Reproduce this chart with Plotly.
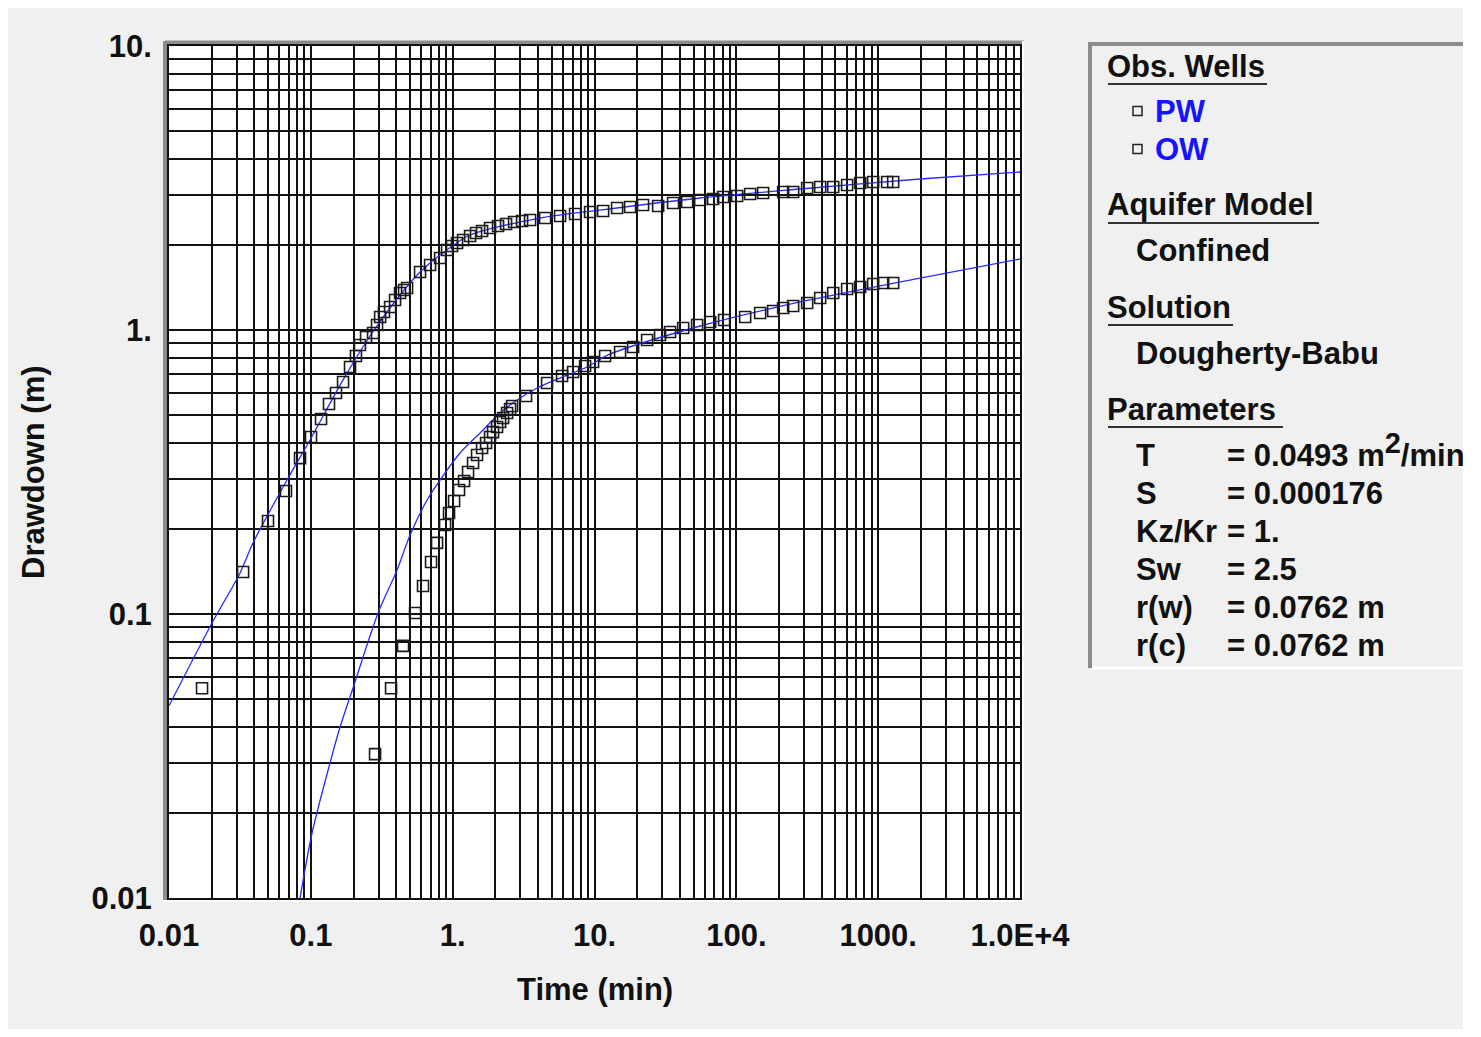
import plotly.graph_objects as go

# ---------------- data ----------------
pw_t = [0.0171, 0.0333, 0.0499, 0.0668, 0.0839, 0.1003, 0.118, 0.1343, 0.1505, 0.1687,
        0.189, 0.208, 0.222, 0.245, 0.2746, 0.293, 0.308, 0.328, 0.362, 0.3925,
        0.4256, 0.4543, 0.477, 0.589, 0.693, 0.815, 0.913, 0.990, 1.074, 1.184,
        1.327, 1.462, 1.612, 1.835, 2.090, 2.380, 2.710, 3.086, 3.514, 4.484,
        5.721, 7.298, 9.31, 11.5, 14.43, 17.83, 22.0, 28.1, 35.8, 45.0,
        55.6, 68.6, 80.7, 101.3, 125.1, 154.5, 213.8, 251.6, 315.8, 390.0,
        482.0, 604.0, 747.0, 922.0, 1157.0, 1276.0]
pw_s = [0.0548, 0.1406, 0.2126, 0.271, 0.354, 0.420, 0.486, 0.549, 0.600, 0.656,
        0.741, 0.810, 0.886, 0.945, 0.976, 1.041, 1.111, 1.157, 1.205, 1.275,
        1.350, 1.383, 1.406, 1.600, 1.693, 1.792, 1.913, 1.976, 2.025, 2.074,
        2.143, 2.196, 2.232, 2.287, 2.324, 2.362, 2.400, 2.420, 2.439, 2.479,
        2.520, 2.561, 2.604, 2.624, 2.689, 2.711, 2.755, 2.733, 2.801, 2.823,
        2.870, 2.893, 2.940, 2.964, 3.012, 3.037, 3.062, 3.062, 3.162, 3.188,
        3.188, 3.240, 3.293, 3.320, 3.320, 3.320]

ow_t = [0.2837, 0.3678, 0.4468, 0.543, 0.618, 0.704, 0.776, 0.884, 0.943, 1.023,
        1.109, 1.203, 1.284, 1.393, 1.486, 1.612, 1.720, 1.835, 1.927, 2.056,
        2.160, 2.267, 2.419, 2.540, 2.624, 3.293, 4.630, 5.908, 7.063, 8.585,
        9.77, 11.88, 15.15, 18.72, 23.49, 29.0, 34.1, 42.2, 52.9, 65.4,
        82.0, 115.4, 147.2, 181.8, 213.8, 251.6, 315.8, 390.0, 482.0, 604.0,
        747.0, 922.0, 1085.0, 1276.0]
ow_s = [0.0321, 0.0548, 0.0772, 0.1008, 0.1255, 0.1524, 0.178, 0.2058, 0.2267, 0.250,
        0.2733, 0.2938, 0.3162, 0.340, 0.363, 0.384, 0.400, 0.420, 0.437, 0.4555,
        0.4745, 0.490, 0.510, 0.527, 0.540, 0.5855, 0.6506, 0.6887, 0.7114, 0.7466,
        0.7713, 0.810, 0.8366, 0.871, 0.922, 0.960, 0.984, 1.016, 1.041, 1.067,
        1.084, 1.111, 1.148, 1.166, 1.195, 1.215, 1.245, 1.296, 1.350, 1.394,
        1.417, 1.452, 1.464, 1.464]

pw_fit_t = [0.01, 0.0201, 0.0317, 0.0391, 0.0679, 0.0987, 0.1687, 0.270, 0.4256, 0.589,
            0.815, 1.327, 4.134, 10.95, 55.6, 281.8, 1978.0, 10000.0]
pw_fit_s = [0.0475, 0.0930, 0.1395, 0.1778, 0.2963, 0.410, 0.667, 0.976, 1.328, 1.600,
            1.837, 2.160, 2.479, 2.645, 2.916, 3.137, 3.402, 3.600]

ow_fit_t = [0.0839, 0.1020, 0.1366, 0.1607, 0.1984, 0.2978, 0.4055, 0.5009, 0.660, 0.815,
            1.128, 1.561, 2.160, 2.846, 3.937, 5.721, 8.87, 12.47, 55.6, 281.8,
            1978.0, 10000.0]
ow_fit_s = [0.0100, 0.01694, 0.0299, 0.0400, 0.0549, 0.1008, 0.1429, 0.1897, 0.252, 0.2963,
            0.369, 0.434, 0.510, 0.567, 0.625, 0.678, 0.741, 0.817, 1.033, 1.255,
            1.524, 1.778]

x_decades = [0.01, 0.1, 1, 10, 100, 1000, 10000]
x_decade_labels = ["0.01", "0.1", "1.", "10.", "100.", "1000.", "1.0E+4"]
y_decades = [0.01, 0.1, 1, 10]
y_decade_labels = ["0.01", "0.1", "1.", "10."]

x_title = "Time (min)"
y_title = "Drawdown (m)"
wells = ["PW", "OW"]
aquifer_model = "Confined"
solution = "Dougherty-Babu"
param_names = ["T", "S", "Kz/Kr", "Sw", "r(w)", "r(c)"]
param_values = ["= 0.0493 m<sup><span style='font-size:29px'>2</span></sup>/min", "= 0.000176", "= 1.", "= 2.5",
                "= 0.0762 m", "= 0.0762 m"]

# ---------------- helpers ----------------
FONT = "Liberation Sans, Arial, sans-serif"
FS = 31
W, H = 1455, 1021
L, R, T, B = 161, 443, 38, 131


def fx(ref_px):
    return (ref_px - 169) / 851.0


def fy(ref_py):
    return (898 - ref_py) / 852.0


def minor_vals(decades):
    vals = []
    for d in decades[:-1]:
        for m in range(2, 10):
            vals.append(d * m)
    return vals


fig = go.Figure()

line_style = dict(color="#2a2aff", width=1.3, shape="spline", smoothing=0.8)
fig.add_trace(go.Scatter(x=pw_fit_t, y=pw_fit_s, mode="lines", line=line_style,
                         showlegend=False, hoverinfo="skip"))
fig.add_trace(go.Scatter(x=ow_fit_t, y=ow_fit_s, mode="lines", line=line_style,
                         showlegend=False, hoverinfo="skip"))
mk = dict(symbol="square-open", size=11, color="#1a1a1a", line=dict(width=1.6, color="#1a1a1a"))
fig.add_trace(go.Scatter(x=pw_t, y=pw_s, mode="markers", name="PW", marker=mk, showlegend=False))
fig.add_trace(go.Scatter(x=ow_t, y=ow_s, mode="markers", name="OW", marker=mk, showlegend=False))

axis_common = dict(showgrid=True, gridcolor="#111", gridwidth=1.6, zeroline=False,
                   showline=True, linecolor="#111", linewidth=2, mirror=True,
                   ticks="outside", tickcolor="rgba(0,0,0,0)", tickangle=0,
                   tickfont=dict(family=FONT, size=FS, color="#111"))

fig.update_xaxes(type="log", range=[-2, 4], tickmode="array", tickvals=x_decades,
                 ticktext=["<b>%s</b>" % s for s in x_decade_labels], ticklen=9,
                 minor=dict(tickmode="array", tickvals=minor_vals(x_decades), showgrid=True,
                            gridcolor="#111", gridwidth=1.6, ticks=""),
                 **axis_common)
fig.update_yaxes(type="log", range=[-2, 1], tickmode="array", tickvals=y_decades,
                 ticktext=["<b>%s</b>" % s for s in y_decade_labels], ticklen=9,
                 minor=dict(tickmode="array", tickvals=minor_vals(y_decades), showgrid=True,
                            gridcolor="#111", gridwidth=1.6, ticks=""),
                 **axis_common)

shapes = []
gray = "#8c8c8c"
# bevel frame around the plot area
shapes.append(dict(type="line", xref="paper", yref="paper", x0=fx(165), x1=fx(1024), y0=fy(43), y1=fy(43),
                   line=dict(color=gray, width=5), layer="below"))
shapes.append(dict(type="line", xref="paper", yref="paper", x0=fx(165.5), x1=fx(165.5), y0=fy(41), y1=fy(902),
                   line=dict(color=gray, width=5), layer="below"))
shapes.append(dict(type="line", xref="paper", yref="paper", x0=fx(163), x1=fx(1025), y0=fy(901), y1=fy(901),
                   line=dict(color="#ffffff", width=2), layer="below"))
shapes.append(dict(type="line", xref="paper", yref="paper", x0=fx(1023), x1=fx(1023), y0=fy(41), y1=fy(902),
                   line=dict(color="#ffffff", width=2), layer="below"))
# parameter panel borders
shapes.append(dict(type="line", xref="paper", yref="paper", x0=fx(1090), x1=fx(1500), y0=fy(44), y1=fy(44),
                   line=dict(color=gray, width=4)))
shapes.append(dict(type="line", xref="paper", yref="paper", x0=fx(1090), x1=fx(1090), y0=fy(42), y1=fy(668),
                   line=dict(color=gray, width=4)))
shapes.append(dict(type="line", xref="paper", yref="paper", x0=fx(1092), x1=fx(1500), y0=fy(668), y1=fy(668),
                   line=dict(color="#ffffff", width=3)))

annotations = []


def txt(x, y, s, color="#111", size=FS, anchor="left"):
    annotations.append(dict(x=fx(x), y=fy(y), xref="paper", yref="paper", text=s, showarrow=False,
                            xanchor=anchor, yanchor="middle",
                            font=dict(family=FONT, size=size, color=color)))


def header(y, s, x_end):
    txt(1105, y, "<b>%s</b>" % s)
    shapes.append(dict(type="line", xref="paper", yref="paper", x0=fx(1108), x1=fx(x_end),
                       y0=fy(y + 18), y1=fy(y + 18), line=dict(color="#333", width=2)))


header(66, "Obs. Wells", 1267)
for i, w in enumerate(wells):
    yy = 111 + 38 * i
    shapes.append(dict(type="rect", xref="paper", yref="paper", x0=fx(1133), x1=fx(1142),
                       y0=fy(yy - 4.5), y1=fy(yy + 4.5), line=dict(color="#222", width=1.5)))
    txt(1153, yy, "<b>%s</b>" % w, color="#1414ff")
header(205, "Aquifer Model", 1319)
txt(1134, 251, "<b>%s</b>" % aquifer_model)
header(307, "Solution", 1233)
txt(1134, 353, "<b>%s</b>" % solution)
header(409, "Parameters", 1283)
for i, (n, v) in enumerate(zip(param_names, param_values)):
    yy = 455 + 38 * i
    txt(1134, yy, "<b>%s</b>" % n)
    txt(1225, yy - (5 if "<sup>" in v else 0), "<b>%s</b>" % v)

# axis titles
txt(595, 989, "<b>%s</b>" % x_title, anchor="center")
annotations.append(dict(x=fx(33), y=fy(472), xref="paper", yref="paper", text="<b>%s</b>" % y_title,
                        showarrow=False, textangle=-90, xanchor="center", yanchor="middle",
                        font=dict(family=FONT, size=FS, color="#111")))

fig.update_layout(width=W, height=H, margin=dict(l=L, r=R, t=T, b=B, autoexpand=False),
                  paper_bgcolor="#f0f0f0", plot_bgcolor="#ffffff",
                  shapes=shapes, annotations=annotations, showlegend=False)

fig.write_html("out.html")
